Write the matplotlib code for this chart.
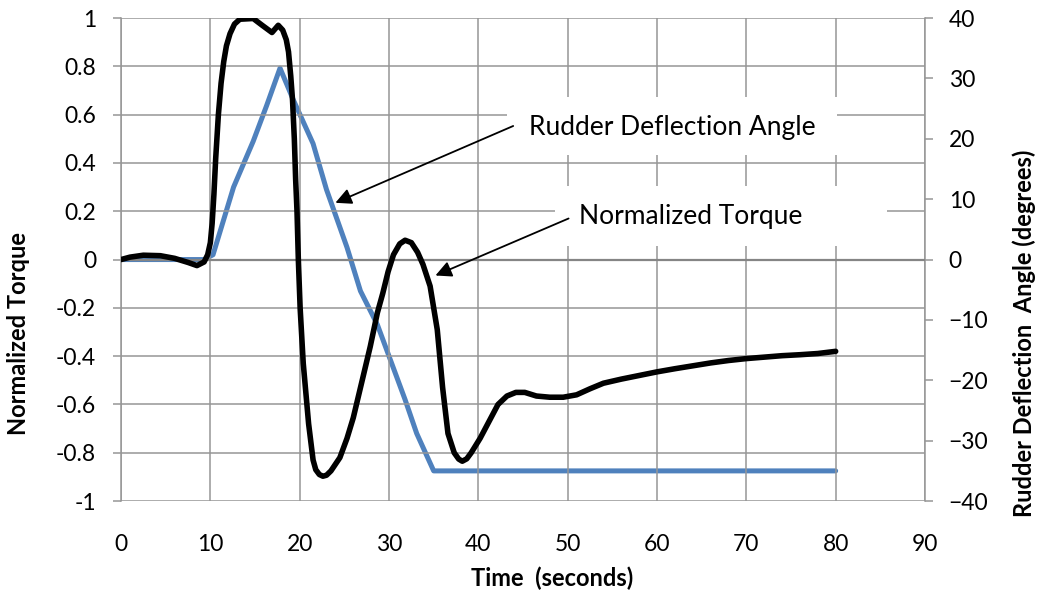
import matplotlib
matplotlib.use("Agg")
import matplotlib.pyplot as plt
from matplotlib.patches import Rectangle

plt.rcParams['font.family'] = ['Lato', 'DejaVu Sans']

# ---- data ----
torque_t = [0, 1, 2.5, 4.4, 6, 7.5, 8.5, 9.3, 9.7, 10.0, 10.2, 10.4, 10.6, 10.9, 11.2,
            11.5, 11.8, 12.2, 12.7, 13.3, 14.8, 15.8, 16.9, 17.6, 18.1, 18.5, 18.75,
            19.0, 19.2, 19.4, 19.55, 19.7, 19.85, 20.05, 20.4, 21.0, 21.5, 21.8, 22.2,
            22.6, 23.0, 23.5, 24.5, 25.3, 26.0, 27.0, 27.9, 28.7, 29.3, 29.9, 30.5,
            31.2, 31.8, 32.5, 33.2, 33.8, 34.6, 35.4, 36.0, 36.6, 37.3, 37.8, 38.2,
            38.7, 39.2, 40.2, 41.2, 42.2, 43.2, 44.2, 45.2, 46.5, 48, 49.5, 51, 52.5,
            54, 56, 58, 60, 62, 64, 66, 68, 70, 72, 74, 76, 78, 80]
torque = [0, 0.01, 0.018, 0.016, 0.005, -0.012, -0.025, -0.01, 0.02, 0.07, 0.15, 0.27,
          0.42, 0.6, 0.73, 0.82, 0.885, 0.935, 0.975, 0.995, 0.998, 0.97, 0.94, 0.97,
          0.95, 0.91, 0.86, 0.76, 0.66, 0.5, 0.33, 0.2, 0.0, -0.2, -0.43, -0.68,
          -0.83, -0.87, -0.89, -0.897, -0.893, -0.875, -0.82, -0.74, -0.655, -0.5,
          -0.36, -0.22, -0.14, -0.05, 0.02, 0.065, 0.08, 0.07, 0.03, -0.02, -0.11,
          -0.29, -0.53, -0.72, -0.8, -0.826, -0.835, -0.825, -0.8, -0.74, -0.67,
          -0.6, -0.565, -0.55, -0.55, -0.565, -0.57, -0.57, -0.56, -0.535, -0.512,
          -0.495, -0.48, -0.465, -0.452, -0.44, -0.428, -0.418, -0.41, -0.404,
          -0.398, -0.394, -0.389, -0.38]

rudder_t = [0, 9.3, 10.3, 12.6, 14.8, 16.3, 17.8, 19.3, 21.5, 23.0, 25.3, 26.8,
            28.7, 30.3, 31.8, 33.1, 35.0, 80]
rudder_deg = [0, 0, 0.8, 12, 19.6, 25.5, 31.7, 26.4, 19.2, 11.6, 2, -5.2, -10.8,
              -17.2, -23.2, -28.8, -35, -35]

x_ticks = [0, 10, 20, 30, 40, 50, 60, 70, 80, 90]
left_ticks = [-1, -0.8, -0.6, -0.4, -0.2, 0, 0.2, 0.4, 0.6, 0.8, 1]
left_labels = ['-1', '-0.8', '-0.6', '-0.4', '-0.2', '0', '0.2', '0.4', '0.6', '0.8', '1']
right_ticks = [-40, -30, -20, -10, 0, 10, 20, 30, 40]

GRID = '#969696'

fig = plt.figure(figsize=(10.37, 5.93), dpi=100)
ax = fig.add_axes([0.1167, 0.155, 0.892 - 0.1167, 0.9696 - 0.155])
ax.set_xlim(0, 90)
ax.set_ylim(-1, 1)
ax.set_xticks(x_ticks)
ax.set_yticks(left_ticks)
ax.set_yticklabels(left_labels)
ax.grid(True, color=GRID, linewidth=1.1, zorder=0)
ax.set_axisbelow(True)
for s in ['top', 'bottom', 'right']:
    ax.spines[s].set_visible(False)
ax.spines['left'].set_color(GRID)
ax.spines['left'].set_linewidth(1.1)
ax.axhline(0, color='#858585', linewidth=1.6, zorder=1)
ax.tick_params(axis='x', length=0, pad=24, labelsize=16.5)
ax.tick_params(axis='y', length=6, width=1.1, color=GRID, pad=12, labelsize=16.5)

ax2 = ax.twinx()
ax2.set_ylim(-40, 40)
ax2.set_yticks(right_ticks)
for s in ['top', 'bottom', 'left']:
    ax2.spines[s].set_visible(False)
ax2.spines['right'].set_color(GRID)
ax2.spines['right'].set_linewidth(1.1)
ax2.tick_params(axis='y', length=6, width=1.1, color=GRID, pad=11, labelsize=16.5)

# white text boxes (Excel text boxes hide gridlines)
ax.add_patch(Rectangle((43.2, 0.431), 36.9, 0.24, facecolor='white', edgecolor='none', zorder=2))
ax.add_patch(Rectangle((48.6, 0.058), 37.2, 0.248, facecolor='white', edgecolor='none', zorder=2))

ax.plot(torque_t, torque, color='black', linewidth=4.0, solid_capstyle='round',
        solid_joinstyle='round', zorder=4)
ax2.plot(rudder_t, rudder_deg, color='#4F81BD', linewidth=3.6, solid_capstyle='round',
         solid_joinstyle='round', zorder=3)

ax.annotate('', xy=(24.0, 0.235), xytext=(43.9, 0.553),
            arrowprops=dict(arrowstyle='-|>', color='black', lw=1.3,
                            mutation_scale=24, shrinkA=0, shrinkB=0), zorder=5)
ax.annotate('', xy=(35.2, -0.066), xytext=(50.1, 0.17),
            arrowprops=dict(arrowstyle='-|>', color='black', lw=1.3,
                            mutation_scale=24, shrinkA=0, shrinkB=0), zorder=5)
ax.text(61.7, 0.548, 'Rudder Deflection Angle', fontsize=19, ha='center', va='center', zorder=5)
ax.text(63.8, 0.178, 'Normalized Torque', fontsize=19, ha='center', va='center', zorder=5)

ax.set_zorder(ax2.get_zorder() + 1)
ax.patch.set_visible(False)

fig.text(0.532, 0.025, 'Time  (seconds)', fontsize=17, fontweight='bold', ha='center', va='center')
fig.text(0.018, 0.438, 'Normalized Torque', fontsize=17, fontweight='bold', rotation=90,
         ha='center', va='center')
fig.text(0.988, 0.438, 'Rudder Deflection  Angle (degrees)', fontsize=17, fontweight='bold',
         rotation=90, ha='center', va='center')

fig.savefig('out.png', dpi=100, facecolor='white')
